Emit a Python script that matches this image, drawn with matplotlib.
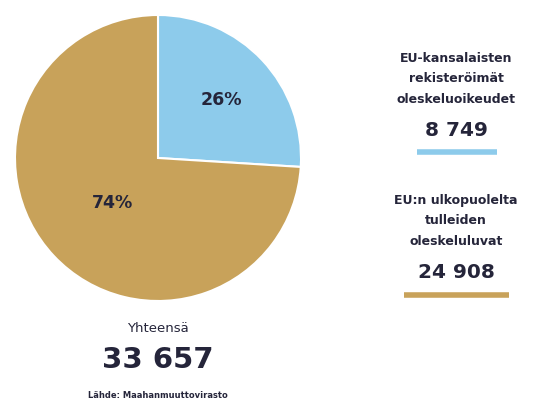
import matplotlib.pyplot as plt

labels = ["EU-kansalaisten\nrekisteröimät\noleskeluoikeudet", "EU:n ulkopuolelta\ntulleiden\noleskeluluvat"]
values = [8749, 24908]
colors = ["#8dcbeb", "#c8a25a"]
total_label = "Yhteensä"
source = "Lähde: Maahanmuuttovirasto"

W, H = 539, 403
dark = "#25253a"

fig = plt.figure(figsize=(W / 100, H / 100), dpi=100)

# pie axes: center ~(158,158) px, radius ~143 px
cx, cy, r = 158, 158, 143
ax = fig.add_axes([(cx - r) / W, (H - cy - r) / H, 2 * r / W, 2 * r / H])
wedges, texts = ax.pie(values, colors=colors, startangle=90, counterclock=False,
                       wedgeprops=dict(edgecolor="white", linewidth=1.5))
ax.set_xlim(-1, 1)
ax.set_ylim(-1, 1)
ax.set_aspect("equal")
total = sum(values)
pct_pos = [(221, 100), (112, 203)]
for v, (px, py) in zip(values, pct_pos):
    fig.text(px / W, 1 - py / H, f"{round(v / total * 100)}%", ha="center", va="center",
             fontsize=12.5, fontweight="semibold", color=dark)

def fmt(n):
    return f"{n:,}".replace(",", " ")

# legend blocks on the right
blocks = [(79, 130, 152, 417, 497), (221, 272, 295, 404, 509)]
for lab, v, c, (ly, ny, liney, x0, x1) in zip(labels, values, colors, blocks):
    fig.text(456 / W, 1 - ly / H, lab, ha="center", va="center", fontsize=9,
             fontweight="bold", color=dark, linespacing=1.75)
    fig.text(456 / W, 1 - ny / H, fmt(v), ha="center", va="center", fontsize=14.5,
             fontweight="bold", color=dark)
    fig.add_artist(plt.Line2D([x0 / W, x1 / W], [1 - liney / H, 1 - liney / H],
                              color=c, linewidth=4, solid_capstyle="butt"))

fig.text(158 / W, 1 - 328 / H, total_label, ha="center", va="center", fontsize=9.5, color=dark)
fig.text(158 / W, 1 - 360 / H, fmt(total), ha="center", va="center", fontsize=21,
         fontweight="bold", color=dark)
fig.text(158 / W, 1 - 396 / H, source, ha="center", va="center", fontsize=6,
         fontweight="bold", color=dark)

fig.savefig("out.png", dpi=100)
